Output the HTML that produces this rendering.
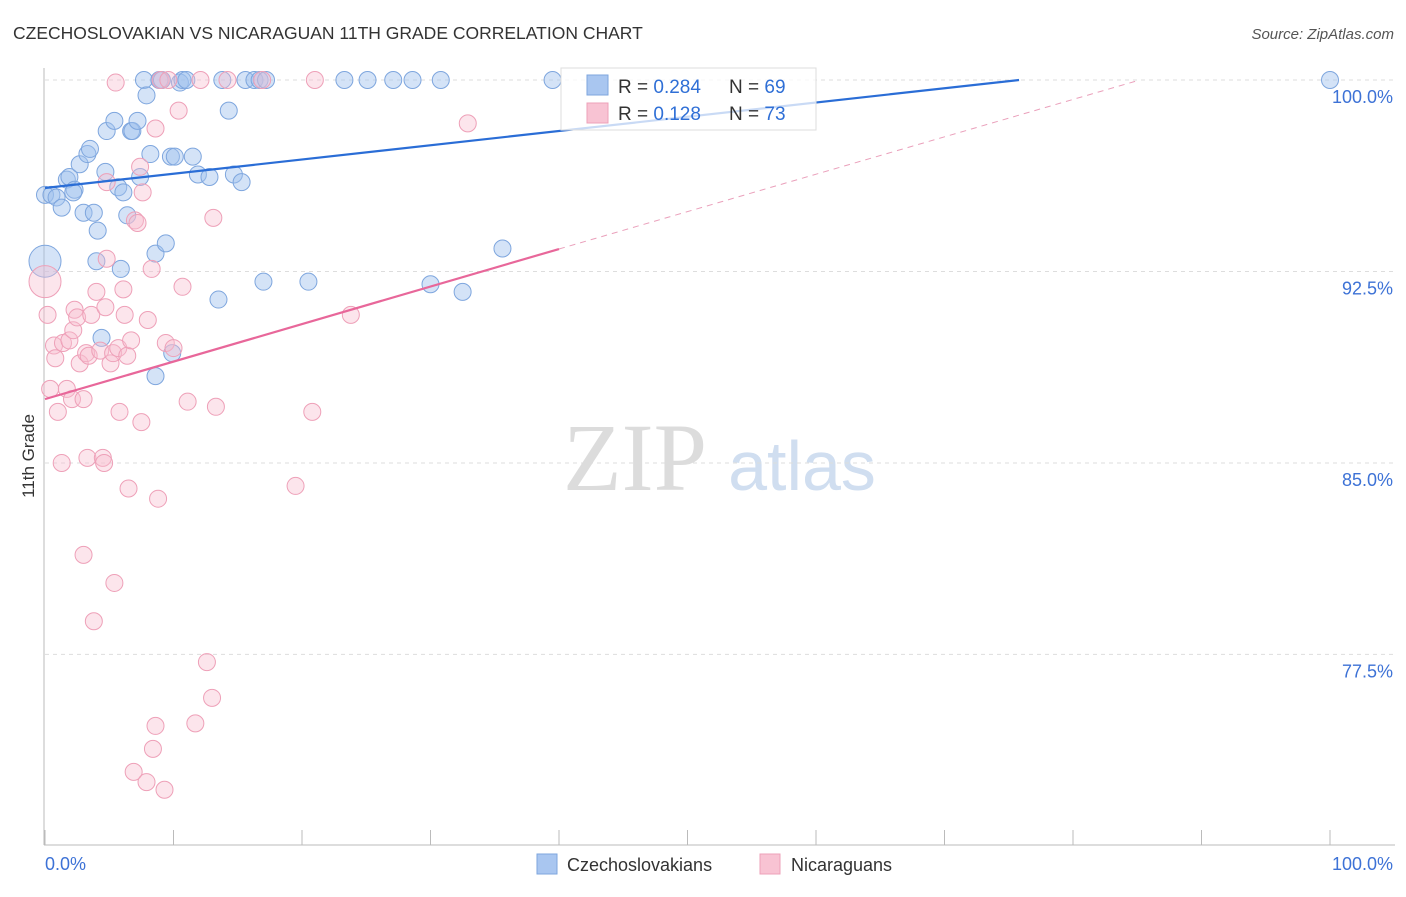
<!DOCTYPE html>
<html><head><meta charset="utf-8"><style>
body{margin:0;background:#fff;font-family:"Liberation Sans",sans-serif}
</style></head><body>
<svg id="chart" width="1406" height="892" xmlns="http://www.w3.org/2000/svg" font-family="Liberation Sans, sans-serif">
<text x="13" y="39" font-size="17.5" fill="#333">CZECHOSLOVAKIAN VS NICARAGUAN 11TH GRADE CORRELATION CHART</text>
<text x="1394" y="39" font-size="15" fill="#555" text-anchor="end" font-style="italic">Source: ZipAtlas.com</text>
<g>
<text x="635" y="490" font-size="96" fill="#dcdcdc" font-family="Liberation Serif, serif" text-anchor="middle">ZIP</text>
<text x="802" y="490" font-size="70" fill="#d0def0" text-anchor="middle">atlas</text>
</g>
<g id="grid"></g>
<g id="axes"></g>
<g id="points"></g>
<g id="lines"></g>
<text transform="translate(34,456) rotate(-90)" font-size="17" fill="#333" text-anchor="middle">11th Grade</text>
<g>
<rect x="561" y="68" width="255" height="62" fill="#fff" fill-opacity="0.75" stroke="#ddd"/>
<rect x="587" y="75" width="21" height="20" fill="#a9c6f0" stroke="#7ea6de"/>
<rect x="587" y="103" width="21" height="20" fill="#f8c3d3" stroke="#eea0b8"/>
<text x="618" y="93" font-size="19" fill="#333">R = <tspan fill="#2f6fd6">0.284</tspan></text>
<text x="729" y="93" font-size="19" fill="#333">N = <tspan fill="#2f6fd6">69</tspan></text>
<text x="618" y="120" font-size="19" fill="#333">R = <tspan fill="#2f6fd6"> 0.128</tspan></text>
<text x="729" y="120" font-size="19" fill="#333">N = <tspan fill="#2f6fd6">73</tspan></text>
</g>
<g>
<rect x="537" y="854" width="20" height="20" fill="#a9c6f0" stroke="#7ea6de"/>
<text x="567" y="871" font-size="18" fill="#333">Czechoslovakians</text>
<rect x="760" y="854" width="20" height="20" fill="#f8c3d3" stroke="#eea0b8"/>
<text x="791" y="871" font-size="18" fill="#333">Nicaraguans</text>
</g>
</svg>
<script>
const yTicks=[100,92.5,85,77.5];
const yTickLabels=["100.0%","92.5%","85.0%","77.5%"];
const xTickLabels=["0.0%","100.0%"];
const blueX=[0,0,0.5,0.9,1.3,1.7,1.9,2.3,2.2,2.7,3.0,3.3,3.5,3.8,4.0,4.1,4.4,4.7,4.8,5.4,5.7,5.9,6.1,6.4,6.7,6.8,7.2,7.4,7.7,7.9,8.2,8.6,8.6,8.9,9.1,9.4,9.8,9.9,10.1,10.5,10.7,11.0,11.5,11.9,12.8,13.5,13.8,14.3,14.7,15.3,15.6,16.3,16.7,17.0,17.2,20.5,23.3,25.1,27.1,28.6,30.0,30.8,32.5,35.6,39.5,100];
const blueY=[92.9,95.5,95.5,95.4,95.0,96.1,96.2,95.7,95.6,96.7,94.8,97.1,97.3,94.8,92.9,94.1,89.9,96.4,98.0,98.4,95.8,92.6,95.6,94.7,98.0,98.0,98.4,96.2,100,99.4,97.1,93.2,88.4,100,100,93.6,97.0,89.3,97.0,99.9,100,100,97.0,96.3,96.2,91.4,100,98.8,96.3,96.0,100,100,100,92.1,100,92.1,100,100,100,100,92.0,100,91.7,93.4,100,100];
const pinkX=[0,0.2,0.4,0.7,0.8,1.0,1.3,1.4,1.7,1.9,2.2,2.1,2.3,2.5,2.7,3.0,3.2,3.3,3.4,3.6,4.0,4.3,4.5,4.6,4.7,4.8,4.8,5.1,5.3,5.4,5.5,5.7,5.8,6.1,6.2,6.4,6.5,6.7,7.0,7.2,7.4,7.5,7.6,8.0,8.3,8.4,8.6,8.8,9.0,9.4,9.6,10.0,10.4,10.7,11.1,11.7,12.1,12.6,13.0,13.1,13.3,14.2,16.9,19.5,20.8,21.0,23.8,32.9,6.9,7.9,8.6,9.3,3.8,3.0];
const pinkY=[92.1,90.8,87.9,89.6,89.1,87.0,85.0,89.7,87.9,89.8,90.2,87.5,91.0,90.7,88.9,87.5,89.3,85.2,89.2,90.8,91.7,89.4,85.2,85.0,91.1,93.0,96.0,88.9,89.3,80.3,99.9,89.5,87.0,91.8,90.8,89.2,84.0,89.8,94.5,94.4,96.6,86.6,95.6,90.6,92.6,73.8,98.1,83.6,100,89.7,100,89.5,98.8,91.9,87.4,74.8,100,77.2,75.8,94.6,87.2,100,100,84.1,87.0,100,90.8,98.3,72.9,72.5,74.7,72.2,78.8,81.4];
const blueLine=[95.77,100.0]; const blueLineX=[0,75.8];
const pinkLine=[87.5,93.38,100]; const pinkLineX=[0,40,85.2];
const NS="http://www.w3.org/2000/svg";
const xs=v=>45+v*12.85;
const ys=v=>80+(100-v)*25.53;
function mk(tag,attrs,parent){const e=document.createElementNS(NS,tag);for(const k in attrs)e.setAttribute(k,attrs[k]);parent.appendChild(e);return e;}
const grid=document.getElementById('grid'),axes=document.getElementById('axes'),pts=document.getElementById('points'),lines=document.getElementById('lines');
yTicks.forEach((t,i)=>{
 const g=mk('line',{x1:45,x2:1395,y1:ys(t),y2:ys(t),stroke:'#ddd','stroke-dasharray':'4,4'},grid);
 
 
 const l=mk('text',{x:1393,y:ys(t)+23,'font-size':18,fill:'#3d72d6','text-anchor':'end'},axes);
 l.textContent=yTickLabels[i];
 
 
});
const ax=mk('line',{x1:44,x2:44,y1:68,y2:845,stroke:'#bbb'},axes);


const bx=mk('line',{x1:44,x2:1395,y1:845,y2:845,stroke:'#bbb'},axes);


for(let i=0;i<=10;i++){
 const t=mk('line',{x1:xs(i*10),x2:xs(i*10),y1:830,y2:845,stroke:'#bbb'},axes);
 
 
}
[[0,'start',45],[1,'end',1393]].forEach(([i,a,x])=>{
 const l=mk('text',{x:x,y:870,'font-size':18,fill:'#3d72d6','text-anchor':a},axes);
 l.textContent=xTickLabels[i];
 
 
});
blueX.forEach((x,i)=>{
 const c=mk('circle',{cx:xs(x),cy:ys(blueY[i]),r:i==0?16:8.5,fill:'rgba(160,192,238,0.45)',stroke:'#7ea6de','stroke-width':1},pts);
 
 
});
pinkX.forEach((x,i)=>{
 const c=mk('circle',{cx:xs(x),cy:ys(pinkY[i]),r:i==0?16:8.5,fill:'rgba(248,190,208,0.4)',stroke:'#eea0b8','stroke-width':1},pts);
 
 
});
const bl=mk('line',{x1:xs(blueLineX[0]),y1:ys(blueLine[0]),x2:xs(blueLineX[1]),y2:ys(blueLine[1]),stroke:'#2a6dd6','stroke-width':2.2},lines);


const pl=mk('line',{x1:xs(pinkLineX[0]),y1:ys(pinkLine[0]),x2:xs(pinkLineX[1]),y2:ys(pinkLine[1]),stroke:'#e8679a','stroke-width':2.2},lines);


const pd=mk('line',{x1:xs(pinkLineX[1]),y1:ys(pinkLine[1]),x2:xs(pinkLineX[2]),y2:ys(pinkLine[2]),stroke:'#eaa0bb','stroke-width':1,'stroke-dasharray':'6,5'},lines);


</script>
</body></html>
